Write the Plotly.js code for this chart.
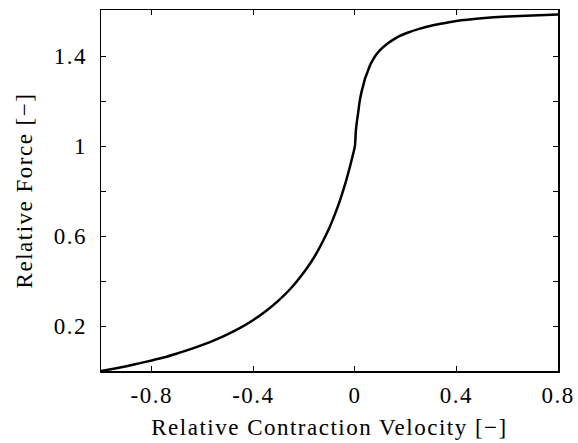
<!DOCTYPE html>
<html>
<head>
<meta charset="utf-8">
<script src="https://cdn.plot.ly/plotly-3.0.1.min.js"></script>
<style>
html,body{margin:0;padding:0;background:#fff;}
#chart{width:578px;height:443px;}
#chart svg text{font-family:'Liberation Serif', serif !important; letter-spacing:1.5px;}
</style>
</head>
<body>
<div id="chart"></div>
<script>
// Relative contraction velocity (x) and relative force (y)
const velocity = [-1, -0.95, -0.9, -0.85, -0.8, -0.75, -0.7, -0.65, -0.6, -0.55, -0.5, -0.45, -0.4, -0.35, -0.3, -0.25,
  -0.2, -0.175, -0.15, -0.125, -0.1, -0.08, -0.06, -0.04, -0.02, -0.01, 0,
  0.004, 0.008, 0.013, 0.019, 0.026, 0.033, 0.04, 0.05, 0.06, 0.072, 0.085, 0.1, 0.125, 0.15, 0.177, 0.21, 0.25,
  0.3, 0.35, 0.4, 0.5, 0.6, 0.7, 0.8];
const force = [0, 0.010, 0.021, 0.034, 0.047, 0.061, 0.078, 0.096, 0.116, 0.138, 0.164, 0.193, 0.227, 0.267, 0.314, 0.370,
  0.44, 0.480, 0.526, 0.579, 0.638, 0.693, 0.754, 0.825, 0.906, 0.951, 1.0,
  1.07, 1.11, 1.15, 1.20, 1.24, 1.27, 1.30, 1.33, 1.36, 1.385, 1.408, 1.428, 1.453, 1.472, 1.49, 1.505, 1.52,
  1.535, 1.546, 1.556, 1.568, 1.576, 1.581, 1.585];

const xTickVals = [-0.8, -0.4, 0, 0.4, 0.8];
const xTickText = ['-0.8', '-0.4', '0', '0.4', '0.8'];
const yTickVals = [0.2, 0.4, 0.6, 0.8, 1.0, 1.2, 1.4];
const yTickText = ['0.2', '', '0.6', '', '1', '', '1.4'];

const FONT = 'Liberation Serif';
const FS = 23;

const trace = {
  x: velocity, y: force, type: 'scatter', mode: 'lines',
  line: {color: '#000', width: 2.5, shape: 'spline', smoothing: 0.6},
  hoverinfo: 'skip'
};

const axisCommon = {
  showgrid: false, zeroline: false, showline: true, linecolor: '#000', linewidth: 1.5,
  mirror: 'ticks', ticks: 'inside', ticklen: 5, tickwidth: 1, tickcolor: '#000',
  tickfont: {family: FONT, size: FS, color: '#000'}
};

const layout = {
  width: 578, height: 443,
  margin: {l: 101, r: 20, t: 10, b: 72},
  paper_bgcolor: '#fff', plot_bgcolor: '#fff',
  showlegend: false,
  font: {family: FONT},
  xaxis: Object.assign({}, axisCommon, {
    range: [-1, 0.8], tickmode: 'array', tickvals: xTickVals, ticktext: xTickText,
    ticklabelstandoff: 3,
    title: {text: 'Relative Contraction Velocity [\u2212]', font: {family: FONT, size: FS, color: '#000'}, standoff: 12}
  }),
  yaxis: Object.assign({}, axisCommon, {
    range: [0, 1.605], tickmode: 'array', tickvals: yTickVals, ticktext: yTickText,
    ticklabelstandoff: 8,
    title: {text: 'Relative Force [\u2212]', font: {family: FONT, size: FS, color: '#000'}, standoff: 19}
  })
};

Plotly.newPlot('chart', [trace], layout, {staticPlot: true, displayModeBar: false});
</script>
</body>
</html>
